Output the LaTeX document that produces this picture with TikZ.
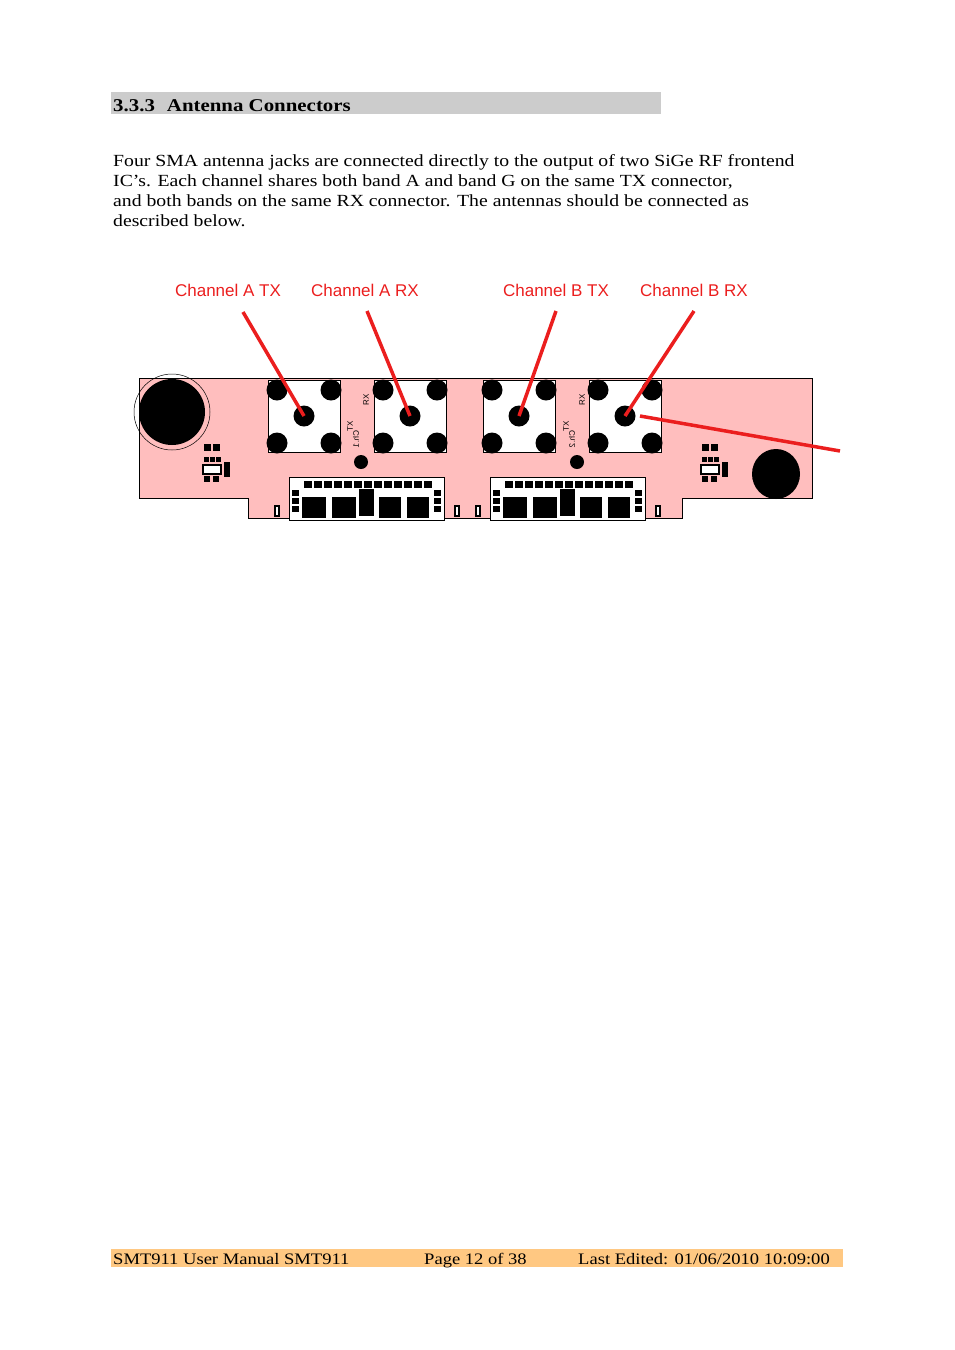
\documentclass[tikz,border=0pt]{standalone}
\usepackage{fontspec}
\setmainfont[FakeStretch=1.16]{Liberation Serif}
\newfontfamily\lsans{Liberation Sans}
\definecolor{pcb}{RGB}{255,190,190}
\definecolor{hdr}{RGB}{204,204,204}
\definecolor{ftr}{RGB}{255,200,130}
\definecolor{rd}{RGB}{235,30,30}
\begin{document}
\begin{tikzpicture}[x=1pt,y=-1pt,
  body/.style={anchor=base west,inner sep=0pt,font=\fontsize{17}{20}\selectfont},
  lbl/.style={text=rd,font=\lsans\fontsize{17}{20}\selectfont,inner sep=0pt},
  ptr/.style={draw=rd,line width=3.5pt},
  tiny/.style={font=\lsans\fontsize{8}{9}\selectfont,inner sep=0pt,rotate=90}]
\useasboundingbox (0,0) rectangle (954,1350);
% heading
\fill[hdr] (111,92) rectangle (661,114);
\node[anchor=base west,inner sep=0pt,font=\bfseries\fontsize{18}{20}\selectfont] (h) at (113,111) {3.3.3\hspace{12pt}Antenna Connectors};
\node[body] (t1) at (113,166) {Four SMA antenna jacks are connected directly to the output of two SiGe RF frontend};
\node[body] (t2) at (113,186) {IC’s. Each channel shares both band A and band G on the same TX connector,};
\node[body] (t3) at (113,206) {and both bands on the same RX connector. The antennas should be connected as};
\node[body] (t4) at (113,226) {described below.};
% pcb
\draw[fill=pcb,line width=0.6pt] (139,378)--(812,378)--(812,498)--(682,498)--(682,518)--(248,518)--(248,498)--(139,498)--cycle;
\draw[line width=0.5pt] (172,412) circle (38);
\fill[black] (172,412) circle (33);
\fill[black] (776,474) ellipse (24 and 25);
\foreach \x/\n in {268/a,374/b,483/c,589/d}{
  \draw[fill=white,line width=0.6pt] (\x,380) rectangle ++(72,72);
  \foreach \dx/\dy in {9/10,63/10,9/63,63/63}{\fill (\x+\dx,380+\dy) circle (10.5);}
  \fill (\x+36,416) circle (10.5);
  \coordinate (c\n) at (\x+36,416);
}
\foreach \x/\k in {350/1,566/2}{
  \node[tiny] at (\x,426) {TX};
  \node[tiny] at (\x+16,400) {RX};
  \node[tiny,xscale=-1] at (\x+6,439) {Ch.\k};
  \fill (\x+11,462) ellipse (7 and 7);
}
% small components
\foreach \x in {212,710}{
  \fill (\x-8,444) rectangle ++(7,7); \fill (\x+1,444) rectangle ++(7,7);
  \foreach \i in {0,1,2}{\fill (\x-8+\i*6,457) rectangle ++(5,5);}
  \draw[fill=white,line width=1.5pt] (\x-9,465) rectangle ++(18,9);
  \fill (\x+12,462) rectangle ++(6,15);
  \fill (\x-8,476) rectangle ++(6,6); \fill (\x+1,476) rectangle ++(6,6);
}
% chips
\foreach \x in {289,490}{
  \draw[fill=white,line width=0.6pt] (\x,477) rectangle (\x+155,520);
  \foreach \i in {0,...,12}{\fill (\x+15+\i*10,481) rectangle ++(8,7);}
  \foreach \j in {0,1,2}{\fill (\x+3,490+\j*8) rectangle ++(7,6); \fill (\x+145,490+\j*8) rectangle ++(7,6);}
  \fill (\x+13,497) rectangle ++(24,21);
  \fill (\x+43,497) rectangle ++(24,21);
  \fill (\x+70,489) rectangle ++(15,27);
  \fill (\x+90,497) rectangle ++(22,21);
  \fill (\x+118,497) rectangle ++(22,21);
}
\foreach \x in {277,457,478,658}{\draw[fill=white,line width=2pt] (\x-2,506) rectangle ++(4,10);}
% labels and pointers
\node[lbl] (la) at (228,290) {Channel A TX};
\node[lbl] (lb) at (365,290) {Channel A RX};
\node[lbl] (lc) at (556,290) {Channel B TX};
\node[lbl] (ld) at (694,290) {Channel B RX};
\coordinate (pa) at (243,312); \coordinate (pb) at (367,311);
\coordinate (pc) at (556,311); \coordinate (pd) at (694,311);
\draw[ptr] (pa)--(ca); \draw[ptr] (pb)--(cb); \draw[ptr] (pc)--(cc); \draw[ptr] (pd)--(cd);
\coordinate (e1) at (640,416); \coordinate (e2) at (840,451);
\draw[ptr] (e1)--(e2);
% footer
\fill[ftr] (111,1249) rectangle (843,1267);
\node[body,font=\fontsize{16}{18}\selectfont] (f1) at (113,1264) {SMT911 User Manual SMT911};
\node[body,font=\fontsize{16}{18}\selectfont] (f2) at (424,1264) {Page 12 of 38};
\node[body,font=\fontsize{16}{18}\selectfont] (f3) at (578,1264) {Last Edited: 01/06/2010 10:09:00};
\end{tikzpicture}
\end{document}
